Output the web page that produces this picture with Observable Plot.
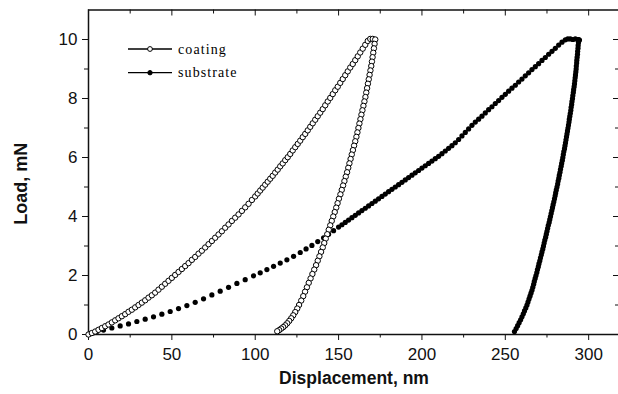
<!DOCTYPE html>
<html><head><meta charset="utf-8">
<script src="https://cdn.jsdelivr.net/npm/d3@7"></script>
<script src="https://cdn.jsdelivr.net/npm/@observablehq/plot@0.6"></script>
<style>body{margin:0;background:#fff} #chart svg{display:block}</style>
</head><body><div id="chart"></div>
<script>
// ---- data (displacement nm, load mN) ----
const coatingLoading = [[0,0],[2,0.05],[4,0.1],[6,0.16],[8,0.22],[10,0.28],[12,0.34],[14,0.41],[16,0.48],[18,0.55],[20,0.62],[22,0.69],[24,0.77],[26,0.84],[28,0.92],[30,1.0],[32,1.08],[34,1.16],[36,1.25],[38,1.33],[40,1.42],[42,1.52],[44,1.62],[46,1.72],[48,1.82],[50,1.92],[52,2.02],[54,2.12],[56,2.22],[58,2.32],[60,2.42],[62,2.53],[64,2.63],[66,2.74],[68,2.84],[70,2.95],[72,3.06],[74,3.17],[76,3.28],[78,3.39],[80,3.5],[82,3.62],[84,3.73],[86,3.85],[88,3.96],[90,4.07],[92,4.19],[94,4.31],[96,4.43],[98,4.56],[100,4.68],[101.5,4.78],[103,4.88],[104.5,4.98],[106,5.08],[107.5,5.18],[109,5.28],[110.5,5.38],[112,5.49],[113.5,5.59],[115,5.7],[116.5,5.8],[118,5.91],[119.5,6.01],[121,6.12],[122.5,6.24],[124,6.35],[125.5,6.46],[127,6.57],[128.5,6.69],[130,6.8],[131.5,6.92],[133,7.04],[134.5,7.16],[136,7.28],[137.5,7.4],[139,7.52],[140.5,7.64],[142,7.77],[143.5,7.9],[145,8.02],[146.5,8.15],[148,8.28],[149.5,8.4],[151,8.53],[152.5,8.66],[154,8.79],[155.5,8.92],[157,9.05],[158.5,9.17],[160,9.3],[161.5,9.43],[163,9.56],[164.5,9.69],[166,9.82],[167.5,9.95]];
const coatingHold = [[169,10.02],[170.5,10.02],[172,10.0]];
const coatingUnloading = [[171.6,9.85],[171.2,9.7],[170.8,9.55],[170.4,9.4],[170.0,9.25],[169.6,9.1],[169.1,8.95],[168.6,8.8],[168.1,8.65],[167.6,8.5],[167.1,8.35],[166.6,8.2],[166.1,8.05],[165.5,7.9],[164.9,7.75],[164.3,7.6],[163.7,7.45],[163.1,7.3],[162.5,7.15],[161.9,7.0],[161.3,6.85],[160.7,6.7],[160.0,6.55],[159.3,6.4],[158.6,6.25],[157.9,6.1],[157.2,5.95],[156.5,5.8],[155.8,5.65],[155.1,5.5],[154.3,5.35],[153.5,5.2],[152.7,5.05],[151.9,4.9],[151.1,4.75],[150.2,4.6],[149.4,4.45],[148.6,4.3],[147.7,4.15],[146.8,4.0],[145.9,3.85],[145.0,3.7],[144.1,3.55],[143.2,3.4],[142.3,3.25],[141.4,3.1],[140.5,2.95],[139.5,2.8],[138.5,2.65],[137.5,2.5],[136.5,2.35],[135.4,2.2],[134.3,2.05],[133.2,1.9],[132.1,1.75],[131.0,1.6],[129.9,1.45],[128.8,1.3],[127.6,1.15],[126.3,1.0],[125.2,0.88],[124.0,0.76],[122.8,0.65],[121.6,0.55],[120.4,0.46],[119.2,0.38],[118.0,0.31],[116.8,0.25],[115.6,0.2],[114.4,0.15],[113.2,0.11]];

const substrateLoading = [[0,0],[1.5,0.03],[3,0.06],[5,0.1],[9,0.15],[14,0.22],[19,0.29],[24,0.36],[29,0.44],[34,0.52],[39,0.6],[44,0.69],[49,0.78],[54,0.88],[59,0.98],[64,1.09],[69,1.21],[74,1.34],[79,1.47],[84,1.6],[89,1.73],[94,1.86],[99,1.99],[103,2.09],[107,2.2],[111,2.31],[115,2.42],[119,2.53],[123,2.65],[127,2.78],[130.5,2.9],[134,3.02],[137.5,3.15],[141,3.28],[144,3.4],[147,3.52],[150,3.64],[152,3.72],[154,3.8],[156,3.88],[158,3.96],[160,4.04],[162,4.12],[164,4.2],[166,4.28],[168,4.36],[170,4.44],[172,4.52],[174,4.6],[176,4.68],[178,4.76],[180,4.84],[182,4.92],[184,5.0],[186,5.08],[188,5.16],[190,5.24],[192,5.32],[194,5.4],[196,5.48],[198,5.56],[200,5.64],[202,5.72],[204,5.8],[206,5.88],[208,5.96],[210,6.04],[212,6.13],[214,6.22],[216,6.31],[218,6.4],[220,6.5],[222,6.61],[224,6.73],[226,6.85],[228,6.97],[230,7.09],[232,7.2],[234,7.3],[236,7.4],[238,7.51],[240,7.62],[242,7.72],[244,7.83],[246,7.93],[248,8.04],[250,8.14],[252,8.25],[254,8.35],[256,8.45],[258,8.56],[260,8.66],[262,8.77],[264,8.87],[266,8.98],[268,9.08],[270,9.18],[272,9.29],[274,9.39],[276,9.5],[278,9.6],[280,9.7],[282,9.81],[284,9.91],[286,9.99]];
const substrateHold = [[287.5,10.02],[289,10.02],[290.5,10.0],[292,10.02],[293.5,10.0],[294.5,9.98]];
const substrateUnloading = [[294.0,10.0],[293.9,9.9],[293.7,9.8],[293.6,9.7],[293.4,9.6],[293.3,9.5],[293.1,9.4],[292.9,9.3],[292.8,9.2],[292.6,9.1],[292.5,9.0],[292.3,8.9],[292.1,8.8],[291.9,8.7],[291.7,8.6],[291.5,8.5],[291.3,8.4],[291.0,8.3],[290.8,8.2],[290.5,8.1],[290.3,8.0],[290.0,7.9],[289.8,7.8],[289.5,7.7],[289.3,7.6],[289.0,7.5],[288.7,7.4],[288.4,7.3],[288.2,7.2],[287.9,7.1],[287.6,7.0],[287.3,6.9],[287.0,6.8],[286.7,6.7],[286.4,6.6],[286.1,6.5],[285.8,6.4],[285.5,6.3],[285.1,6.2],[284.8,6.1],[284.5,6.0],[284.2,5.9],[283.8,5.8],[283.5,5.7],[283.1,5.6],[282.8,5.5],[282.4,5.4],[282.1,5.3],[281.7,5.2],[281.4,5.1],[281.0,5.0],[280.6,4.9],[280.2,4.8],[279.9,4.7],[279.5,4.6],[279.1,4.5],[278.7,4.4],[278.3,4.3],[277.9,4.2],[277.5,4.1],[277.1,4.0],[276.7,3.9],[276.3,3.8],[275.8,3.7],[275.4,3.6],[275.0,3.5],[274.6,3.4],[274.2,3.3],[273.7,3.2],[273.3,3.1],[272.9,3.0],[272.5,2.9],[272.0,2.8],[271.6,2.7],[271.1,2.6],[270.7,2.5],[270.2,2.4],[269.8,2.3],[269.3,2.2],[268.9,2.1],[268.4,2.0],[267.9,1.9],[267.4,1.8],[267.0,1.7],[266.5,1.6],[266.0,1.5],[265.4,1.4],[264.8,1.3],[264.2,1.2],[263.6,1.1],[263.0,1.0],[262.3,0.9],[261.5,0.8],[260.8,0.7],[260.0,0.6],[259.2,0.5],[258.3,0.4],[257.4,0.3],[256.5,0.2],[255.5,0.1]];

const xMajor = [0,50,100,150,200,250,300];
const xMinor = [25,75,125,175,225,275];
const yMajor = [0,2,4,6,8,10];
const yMinor = [1,3,5,7,9];
const seriesNames = ["coating","substrate"];
const xLabel = "Displacement, nm";
const yLabel = "Load, mN";

// ---- layout ----
const W = 618, H = 394, mL = 88, mR = -1, mT = 9.5, mB = 60;
const frameW = W - mL - mR, frameH = H - mT - mB;
const toObj = arr => arr.map(([x, y]) => ({x, y}));
const substrate = toObj([...substrateLoading, ...substrateHold, ...substrateUnloading]);
const coating = toObj([...coatingLoading, ...coatingHold, ...coatingUnloading]);
const ink = "#111";

const plot = Plot.plot({
  width: W, height: H,
  marginLeft: mL, marginRight: mR, marginTop: mT, marginBottom: mB,
  x: {domain: [0, 318.5]},
  y: {domain: [0, 11]},
  style: {fontFamily: "'Liberation Sans', Arial, sans-serif", fontSize: "17px", color: ink, background: "#fff", overflow: "hidden"},
  marks: [
    Plot.axisX({ticks: xMajor, tickSize: 6, tickPadding: 7, label: null, tickFormat: d => String(d)}),
    Plot.axisX({ticks: xMinor, tickSize: 3.5, text: null, label: null}),
    Plot.axisY({ticks: yMajor, tickSize: 6, tickPadding: 5, label: null, tickFormat: d => String(d)}),
    Plot.axisY({ticks: yMinor, tickSize: 4, text: null, label: null}),
    Plot.tickX(xMajor, {x: d => d, insetBottom: frameH - 6, stroke: ink}),
    Plot.tickX(xMinor, {x: d => d, insetBottom: frameH - 4, stroke: ink}),
    Plot.tickY(yMajor, {y: d => d, insetLeft: frameW - 6, stroke: ink}),
    Plot.tickY(yMinor, {y: d => d, insetLeft: frameW - 4, stroke: ink}),
    Plot.frame({stroke: ink, strokeWidth: 1.5}),
    Plot.dot(substrate, {x: "x", y: "y", r: 2.6, fill: "#000", stroke: null}),
    Plot.dot(coating, {x: "x", y: "y", r: 2.7, fill: "#fff", stroke: "#000", strokeWidth: 1}),
    Plot.text([xLabel], {frameAnchor: "bottom", textAnchor: "middle", dy: 49.7, fontWeight: "bold", fontSize: 17.5, fill: ink}),
    Plot.text([yLabel], {frameAnchor: "left", textAnchor: "middle", rotate: -90, dx: -67, dy: 11.5, fontWeight: "bold", fontSize: 18, fill: ink})
  ]
});

// legend (inside plot, top-left)
const svg = d3.select(plot);
const lg = svg.append("g")
  .attr("font-family", "'Liberation Serif','Times New Roman',serif")
  .attr("font-size", 14).attr("letter-spacing", "1.1px").attr("fill", "#000")
  .attr("text-anchor", "start");
seriesNames.forEach((name, i) => {
  const y = 49 + i * 23.7;
  lg.append("line").attr("x1", 128).attr("x2", 172).attr("y1", y).attr("y2", y).attr("stroke", "#000").attr("stroke-width", 1.3);
  lg.append("circle").attr("cx", 150).attr("cy", y).attr("r", i ? 2.2 : 2.4)
    .attr("fill", i ? "#000" : "#fff").attr("stroke", "#000").attr("stroke-width", 1);
  lg.append("text").attr("x", 178).attr("y", y + 4.7).attr("text-anchor", "start").text(name);
});

document.getElementById("chart").append(plot);
</script>
</body></html>
